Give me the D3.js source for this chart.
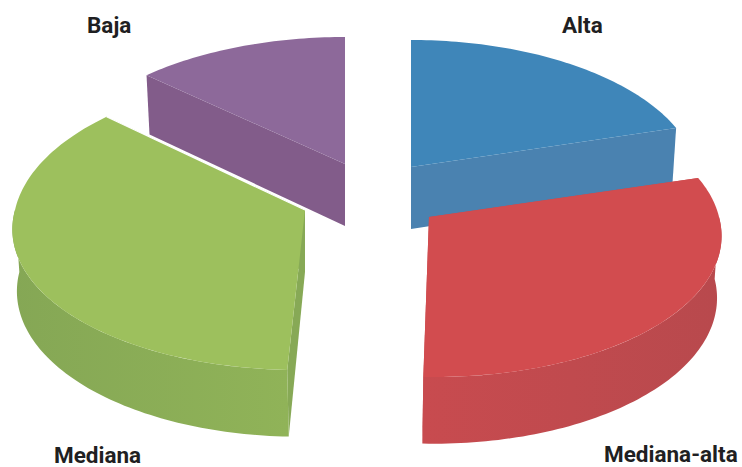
<!DOCTYPE html>
<html lang="es">
<head>
<meta charset="utf-8">
<script src="https://cdn.jsdelivr.net/npm/d3@7"></script>
<style>
html, body { margin: 0; padding: 0; background: #fff; }
svg { display: block; }
text { font-family: Roboto, sans-serif; font-weight: 700; fill: #1f1f22; }
</style>
</head>
<body>
<div id="chart"></div>
<script>
// Values, in percent
const categories = ['Alta', 'Mediana-alta', 'Mediana', 'Baja'];
const shares = [20.4, 30.15, 36.25, 13.2];

const W = 742, H = 467;
const RX = 290, RY = 141.6, PERSPECTIVE = 0.115, DEPTH = 62, CONVERGE = 0.015;
const VANISH_X = 371, LEAN = 0.75, LEAN_DOWN = 0.02;

// apex of each exploded slice, plus look and label placement
const STYLE = {
    'Alta':         { apex: [411, 167], spread: 0.985, backY: 1, top: '#3f86b9', wall: '#4a82b0', outer: ['#4a82b0', '#4a82b0'], label: [562, 33] },
    'Mediana-alta': { apex: [429, 217], spread: 1, backY: 1, top: '#d24c4f', wall: '#c54b4e', outer: ['#c84b4f', '#b8494d'], label: [604, 462] },
    'Mediana':      { apex: [305, 210], spread: 1, backY: 1.05, top: '#9dc05d', wall: '#87a956', outer: ['#85a755', '#90b358'], label: [54, 463] },
    'Baja':         { apex: [345, 164], spread: 1, backY: 1, top: '#8d699a', wall: '#825c8a', outer: ['#825c8a', '#825c8a'], label: [87, 33] }
};
const DRAW_ORDER = ['Alta', 'Baja', 'Mediana', 'Mediana-alta'];

const line = d3.line();

// disc coordinates (u right, v towards viewer, z down) to offset from the slice apex
function projector(st) {
    const lean = st.apex[0] - VANISH_X;
    const project = (u, v, z) => {
        const f = 1 / (1 - PERSPECTIVE * v);
        let x = u * RX * st.spread * f * (1 - CONVERGE * z);
        if (v > 0) x += lean * (LEAN * (f - 1) - LEAN_DOWN * z * v);
        const y = v * RY * f * (v < 0 ? st.backY : 1);
        return [x, y + z * DEPTH * Math.pow(f, 0.6)];
    };
    const rim = (a, z) => project(Math.sin(a), -Math.cos(a), z);
    const arc = (a0, a1, z) => {
        const n = Math.max(2, Math.ceil((a1 - a0) / 0.02));
        return d3.range(n + 1).map(i => rim(a0 + (a1 - a0) * i / n, z));
    };
    return { project, rim, arc };
}

const svg = d3.select('#chart').append('svg')
    .attr('width', W)
    .attr('height', H)
    .attr('viewBox', `0 0 ${W} ${H}`);
const defs = svg.append('defs');

const arcs = d3.pie().sort(null)(shares);
const sliceByName = new Map(categories.map((c, i) => [c, arcs[i]]));

DRAW_ORDER.forEach((name, idx) => {
    const st = STYLE[name];
    const { project, rim, arc } = projector(st);
    const { startAngle: a0, endAngle: a1 } = sliceByName.get(name);
    const g = svg.append('g').attr('transform', `translate(${st.apex[0]},${st.apex[1]})`);

    // side walls on the two straight cuts
    [a0, a1].forEach(a => {
        g.append('path')
            .attr('d', line([project(0, 0, 0), rim(a, 0), rim(a, 1), project(0, 0, 1)]) + 'Z')
            .attr('fill', st.wall);
    });

    // outer wall, only the half that faces the viewer
    const f0 = Math.max(a0, Math.PI / 2);
    const f1 = Math.min(a1, Math.PI * 1.5);
    if (f1 > f0) {
        const id = 'outer' + idx;
        const grad = defs.append('linearGradient').attr('id', id);
        grad.append('stop').attr('offset', '0%').attr('stop-color', st.outer[0]);
        grad.append('stop').attr('offset', '100%').attr('stop-color', st.outer[1]);
        g.append('path')
            .attr('d', line(arc(f0, f1, 0).concat(arc(f0, f1, 1).reverse())) + 'Z')
            .attr('fill', `url(#${id})`);
    }

    // top face
    g.append('path')
        .attr('d', line([project(0, 0, 0)].concat(arc(a0, a1, 0))) + 'Z')
        .attr('fill', st.top);

    // thin light edge where green meets the purple wall
    if (name === 'Mediana') {
        g.append('path')
            .attr('d', line([project(0, 0, 0), rim(a1, 0)]))
            .attr('stroke', '#fff')
            .attr('stroke-width', 1.2);
    }
});

svg.selectAll('text.label')
    .data(categories)
    .join('text')
    .attr('class', 'label')
    .attr('x', d => STYLE[d].label[0])
    .attr('y', d => STYLE[d].label[1])
    .attr('font-size', 22.5)
    .text(d => d);
</script>
</body>
</html>
